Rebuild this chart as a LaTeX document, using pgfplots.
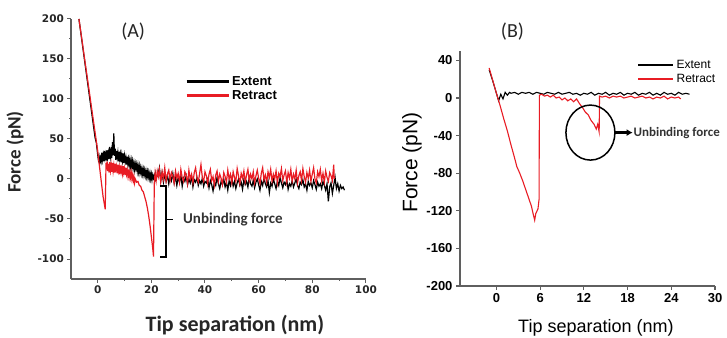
\documentclass[border=0pt]{standalone}
\usepackage{fontspec}
\setmainfont{Liberation Sans}
\newfontfamily\carlito{Carlito}
\newfontfamily\dejavu{DejaVu Sans}
\usepackage{pgfplots}
\pgfplotsset{compat=1.18}
\usetikzlibrary{arrows.meta}
\definecolor{myred}{RGB}{232,28,36}
\definecolor{axgray}{RGB}{95,95,95}
\begin{document}
\begin{tikzpicture}
\useasboundingbox (0,0) rectangle (727pt,337pt);
% ---------------- Panel A ----------------
\begin{axis}[
  at={(70.9pt,58pt)}, anchor=south west,
  scale only axis, width=295pt, height=260pt,
  xmin=-10, xmax=100, ymin=-125, ymax=200,
  axis lines*=left,
  axis line style={axgray, line width=1.3pt},
  every tick/.style={axgray, line width=1pt},
  tick align=outside,
  major tick length=3.5pt, minor tick length=1.8pt,
  xtick={0,20,...,100}, minor x tick num=1,
  ytick={-100,-50,...,200}, minor y tick num=1,
  /pgf/number format/assume math mode=true,
  tick label style={font=\dejavu\bfseries\fontsize{10.5}{12}\selectfont, text=black!85},
  xlabel={Tip separation (nm)},
  ylabel={Force (pN)},
  xlabel style={font=\carlito\bfseries\fontsize{22}{26}\selectfont, at={(axis description cs:0.556,-0.177)}, anchor=center, text=black!85},
  ylabel style={font=\carlito\bfseries\fontsize{19}{23}\selectfont, at={(axis description cs:-0.189,0.488)}, anchor=center, text=black!85},
  legend style={at={(axis description cs:0.383,0.792)}, anchor=north west, draw=none, fill=none,
    font=\bfseries\fontsize{13}{16}\selectfont, row sep=0pt, inner sep=1pt},
  legend cell align=left,
  legend image code/.code={\draw[#1, line width=3pt] (0pt,0pt) -- (42pt,0pt);},
  clip=false,
]
\addplot[black, line width=1.2pt] table {
x y
-7 200
-1 52
-0.5 45
0 30
0.25 24
0.5 28
0.75 20
1 26
1.25 22
1.5 33
1.75 24
2 30
2.25 22
2.5 35
2.75 26
3 31
3.25 23
3.5 36
3.75 27
4 33
4.25 25
4.5 40
4.75 28
5 34
5.25 26
5.5 46
5.75 30
6 57
6.25 29
6.5 38
6.75 24
7 35
7.25 27
7.5 33
7.75 22
8 34
8.25 25
8.5 31
8.75 21
9 30
9.25 23
9.5 32
9.75 20
10 29
10.25 22
10.5 27
10.75 18
11 28
11.25 19
11.5 25
11.75 17
12 24
12.25 16
12.5 23
12.75 15
13 22
13.25 14
13.5 20
13.75 12
14 19
14.25 13
14.5 18
14.75 10
15 17
15.25 9
15.5 16
15.75 8
16 14
16.25 7
16.5 13
16.75 6
17 12
17.25 5
17.5 11
17.75 4
18 10
18.25 3
18.5 9
18.75 2
19 8
19.25 1
19.5 7
19.75 0
20 6
20.25 -1
20.5 5
20.75 1
21 4
21.25 -2
21.5 6
21.75 0
22 3
22.5 5
23 14
23.5 -2
24 8
24.5 -4
25 6
25.5 -3
26 5
26.5 -6
27 4
27.5 -2
28 7
28.5 -5
29 3
29.5 -8
30 2
30.5 -4
31 5
31.5 -9
32 1
32.5 -3
33 4
33.5 -7
34 0
34.5 -5
35 3
35.5 -10
36 -1
36.5 -4
37 2
37.5 -8
38 -2
38.5 -6
39 1
39.5 -9
40 -3
40.5 -5
41 0
41.5 -11
42 -2
42.5 -7
43 -15
43.5 -4
44 -8
44.5 2
45 -6
45.5 -12
46 -3
46.5 -7
47 0
47.5 -10
48 -4
48.5 -14
49 -2
49.5 -8
50 1
50.5 -9
51 -3
51.5 -12
52 -5
52.5 0
53 -8
53.5 -4
54 -13
54.5 -1
55 -7
55.5 -3
56 -10
56.5 2
57 -6
57.5 -9
58 -2
58.5 -11
59 -4
59.5 0
60 -7
60.5 -14
61 -3
61.5 -8
62 1
62.5 -6
63 -10
63.5 -2
64 -17
64.5 -5
65 -9
65.5 0
66 -6
66.5 -12
67 -3
67.5 -8
68 2
68.5 -5
69 -11
69.5 -4
70 -7
70.5 -1
71 -13
71.5 -6
72 -9
72.5 -2
73 -10
73.5 -5
74 0
74.5 -8
75 -12
75.5 -4
76 -7
76.5 -1
77 -10
77.5 -6
78 -14
78.5 -3
79 -8
79.5 -5
80 -11
80.5 -2
81 -7
81.5 -13
82 -4
82.5 -9
83 -6
83.5 -12
84 -3
84.5 -8
85 -14
85.5 -6
86 -28
86.5 -10
87 -5
87.5 -18
88 -8
88.5 2
89 -12
89.5 -6
90 -15
90.5 -8
91 -12
91.5 -10
92 -14
};
\addlegendentry{Extent}
\addplot[myred, line width=1.2pt] table {
x y
-7 200
0 35
0.5 20
1 6
1.5 -8
2 -22
2.5 -32
2.8 -38
3.1 20
3.3 12
3.5 22
3.75 10
4 19
4.25 8
4.5 21
4.75 11
5 18
5.25 9
5.5 20
5.75 10
6 17
6.25 8
6.5 19
6.75 12
7 16
7.25 7
7.5 18
7.75 10
8 15
8.25 6
8.5 17
8.75 9
9 14
9.25 7
9.5 16
9.75 8
10 13
10.25 5
10.5 14
10.75 6
11 11
11.25 4
11.5 12
11.75 3
12 9
12.25 2
12.5 8
12.75 0
13 5
13.25 -2
13.5 3
13.75 -5
14 0
14.5 -4
15 -3
15.5 -8
16 -9
16.5 -14
17 -16
17.5 -22
18 -28
18.5 -36
19 -46
19.5 -58
20 -72
20.5 -86
20.8 -97
21.1 -5
21.4 8
21.8 -2
22.2 10
22.6 3
23 12
23.5 -4
24 9
24.5 0
25 14
25.5 -3
26 6
26.5 11
27 -2
27.5 8
28 4
28.5 -5
29 10
29.5 1
30 7
30.5 -4
31 12
31.5 2
32 -3
32.5 9
33 5
33.5 -6
34 11
34.5 0
35 6
35.5 -5
36 8
36.5 14
37 1
37.5 -4
38 7
38.5 18
39 2
39.5 -3
40 9
40.5 4
41 -6
41.5 6
42 12
42.5 -2
43 3
43.5 -8
44 5
44.5 10
45 -3
45.5 6
46 1
46.5 -7
47 8
47.5 3
48 -4
48.5 11
49 0
49.5 6
50 -5
50.5 9
51 2
51.5 -3
52 13
52.5 4
53 -6
53.5 7
54 1
54.5 10
55 -4
55.5 5
56 12
56.5 -2
57 6
57.5 0
58 9
58.5 -5
59 4
59.5 11
60 1
60.5 -6
61 7
61.5 14
62 -1
62.5 5
63 -4
63.5 9
64 2
64.5 12
65 -3
65.5 6
66 0
66.5 10
67 -5
67.5 7
68 3
68.5 13
69 -2
69.5 5
70 10
70.5 -4
71 8
71.5 1
72 12
72.5 -3
73 6
73.5 0
74 11
74.5 -5
75 4
75.5 9
76 -2
76.5 13
77 3
77.5 -4
78 8
78.5 1
79 11
79.5 -3
80 6
80.5 14
81 0
81.5 -5
82 9
82.5 3
83 12
83.5 -2
84 7
84.5 -4
85 10
85.5 2
86 -3
86.5 8
87 4
87.5 -2
88 18
88.2 0
};
\addlegendentry{Retract}
\node[font=\carlito\fontsize{20}{24}\selectfont, text=black!85] at (axis cs:13.2,184) {(A)};
\draw[black, line width=1.4pt] (axis cs:23.2,-8.8) -- (axis cs:25.5,-8.8) -- (axis cs:25.5,-97.5) -- (axis cs:23.2,-97.5);
\draw[black, line width=1.4pt] (axis cs:25.5,-51) -- (axis cs:28,-51);
\node[font=\carlito\bfseries\fontsize{15}{18}\selectfont, anchor=west, text=black!80, inner sep=0pt] at (axis cs:31.8,-51) {Unbinding force};
\end{axis}
% ---------------- Panel B ----------------
\begin{axis}[
  at={(460pt,51pt)}, anchor=south west,
  scale only axis, width=255pt, height=235pt,
  xmin=-5, xmax=30, ymin=-200, ymax=50,
  axis lines*=left,
  axis line style={axgray, line width=1.5pt},
  every tick/.style={axgray, line width=1.2pt},
  tick align=outside,
  major tick length=4pt,
  xtick={0,6,...,30},
  ytick={-200,-160,...,40},
  /pgf/number format/assume math mode=true,
  tick label style={font=\bfseries\fontsize{13}{15}\selectfont, text=black},
  xlabel={Tip separation (nm)},
  ylabel={Force (pN)},
  xlabel style={font=\fontsize{18}{22}\selectfont, at={(axis description cs:0.533,-0.179)}, anchor=center},
  ylabel style={font=\fontsize{21}{25}\selectfont, at={(axis description cs:-0.188,0.526)}, anchor=center},
  legend style={at={(axis description cs:0.69,0.974)}, anchor=north west, draw=none, fill=none,
    font=\fontsize{12}{15}\selectfont, row sep=0pt, inner sep=1pt},
  legend cell align=left,
  legend image code/.code={\draw[#1, line width=2.5pt] (0pt,0pt) -- (35pt,0pt);},
  clip=false,
]
\addplot[black, line width=1.1pt] table {
x y
-1 30
-0.5 18
0 5
0.3 -3
0.6 4
0.9 -1
1.2 6
1.5 3
1.8 6
2 5
2.5 6
3 4
3.5 6
4 5
4.5 6
5 4
5.5 6
6 5
6.5 4
7 6
7.5 5
8 4
8.5 6
9 4
9.5 5
10 6
10.5 4
11 5
11.5 3
12 5
12.5 4
13 6
13.5 3
14 5
14.5 4
15 6
15.5 3
16 5
16.5 4
17 6
17.5 3
18 5
18.5 4
19 6
19.5 3
20 5
20.5 4
21 6
21.5 3
22 5
22.5 3
23 6
23.5 4
24 5
24.5 3
25 6
25.5 4
26 5
26.5 4
};
\addlegendentry{Extent}
\addplot[myred, line width=1.1pt] table {
x y
-1 32
0 5
0.5 -8
1 -22
1.5 -35
2 -50
2.5 -64
2.8 -73
3.2 -80
3.6 -88
4 -97
4.4 -106
4.8 -115
5.0 -122
5.25 -130
5.4 -123
5.7 -118
5.85 -108
5.9 3
6.2 4
6.6 2
7 3
7.4 1
7.8 3
8.2 0
8.6 1
9 -2
9.4 0
9.8 -3
10.2 -1
10.6 -4
11 -1
11.4 -6
11.8 -10
12.2 -15
12.6 -18
13 -24
13.4 -28
13.7 -33
13.9 -28
14.1 -36
14.15 2
14.5 1
15 2
15.5 0
16 2
16.5 1
17 2
17.5 0
18 1
18.5 2
19 0
19.5 1
20 2
20.5 0
21 1
21.5 -1
22 1
22.5 0
23 2
23.5 -1
24 1
24.5 0
25 1
25.3 -1
};
\addlegendentry{Retract}
\node[font=\carlito\fontsize{20}{24}\selectfont, text=black!85] at (axis cs:2.2,70.7) {(B)};
\draw[black, line width=1.5pt] (axis cs:12.9,-36.8) ellipse [x radius=24.5pt, y radius=27.5pt];
\draw[black, line width=3pt, -{Latex[length=6pt,width=7pt]}] (axis cs:16.3,-36.8) -- (axis cs:18.7,-36.8);
\node[font=\carlito\bfseries\fontsize{13}{16}\selectfont, anchor=west, text=black!80, inner sep=0pt] at (axis cs:18.8,-36.8) {Unbinding force};
\end{axis}
\end{tikzpicture}
\end{document}
